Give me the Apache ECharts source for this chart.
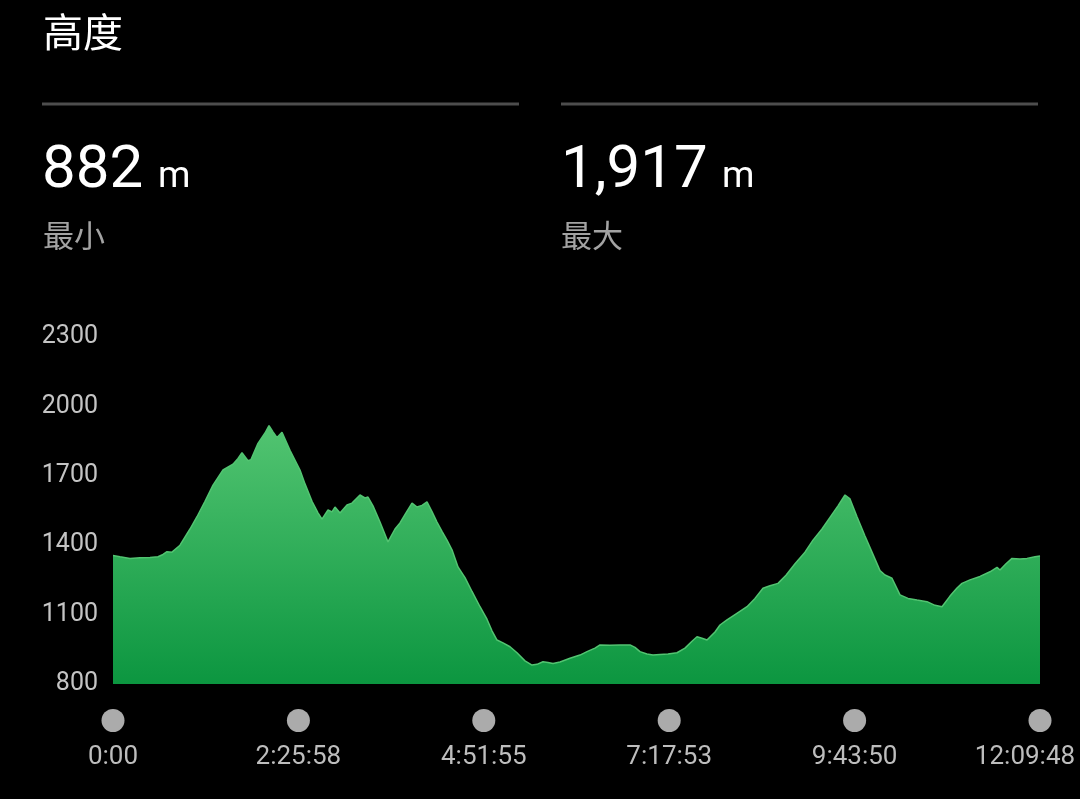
<!DOCTYPE html>
<html>
<head>
<meta charset="utf-8">
<style>
  html, body { margin: 0; padding: 0; background: #000; }
  #chart { width: 1080px; height: 799px; }
</style>
<script src="https://cdn.jsdelivr.net/npm/echarts@6/dist/echarts.min.js"></script>
</head>
<body>
<div id="chart"></div>
<script>
// ---- data (time in seconds, elevation in metres) ----
var timeSec = [0, 331, 803, 1275, 1748, 2126, 2362, 2551, 2787, 3165, 3637, 3968, 4346, 4724, 5196, 5668, 5905, 6093, 6377, 6519, 6849, 7180, 7369, 7558, 7747, 7983, 8361, 8833, 9069, 9400, 9683, 9872, 10156, 10345, 10486, 10723, 11053, 11289, 11667, 11903, 12045, 12281, 12612, 12990, 13321, 13557, 13840, 14124, 14360, 14596, 14832, 15068, 15304, 15541, 15777, 16013, 16296, 16627, 16958, 17336, 17666, 17902, 18139, 18422, 18753, 19083, 19461, 19792, 20028, 20311, 20548, 20784, 21114, 21587, 22059, 22390, 22768, 23004, 23476, 23949, 24421, 24657, 24893, 25224, 25507, 25838, 26216, 26641, 27019, 27350, 27586, 27822, 28058, 28436, 28672, 29003, 29381, 29948, 30325, 30703, 31034, 31412, 31790, 32215, 32687, 33065, 33490, 33868, 34246, 34577, 34813, 35144, 35521, 35852, 36230, 36466, 36797, 37175, 37553, 37978, 38450, 38828, 39159, 39537, 39867, 40103, 40481, 40954, 41426, 41757, 41898, 42182, 42465, 42843, 43174, 43552, 43788];
var elevation = [1355, 1350, 1343, 1346, 1347, 1350, 1360, 1372, 1370, 1400, 1470, 1523, 1590, 1660, 1725, 1750, 1775, 1800, 1765, 1770, 1840, 1885, 1917, 1890, 1865, 1888, 1810, 1725, 1665, 1590, 1540, 1513, 1552, 1544, 1565, 1539, 1574, 1582, 1617, 1604, 1608, 1570, 1500, 1414, 1470, 1496, 1540, 1582, 1565, 1572, 1587, 1545, 1500, 1460, 1422, 1380, 1306, 1260, 1200, 1134, 1080, 1030, 990, 978, 961, 935, 900, 882, 885, 896, 893, 889, 895, 911, 925, 940, 955, 969, 968, 969, 969, 958, 940, 930, 925, 928, 930, 935, 955, 985, 1004, 998, 990, 1025, 1055, 1077, 1100, 1134, 1170, 1214, 1225, 1235, 1270, 1320, 1370, 1422, 1470, 1520, 1570, 1617, 1600, 1523, 1440, 1370, 1290, 1271, 1257, 1185, 1170, 1163, 1156, 1140, 1134, 1180, 1215, 1235, 1250, 1265, 1285, 1304, 1293, 1320, 1343, 1340, 1343, 1350, 1353];
var xTickLabels = ['0:00', '2:25:58', '4:51:55', '7:17:53', '9:43:50', '12:09:48'];
var yTicks = [800, 1100, 1400, 1700, 2000, 2300];
var titleText = '高度';
var minValue = 882, maxValue = 1917;
var minLabel = '最小', maxLabel = '最大';

var totalSec = timeSec[timeSec.length - 1];
var xInterval = totalSec / (xTickLabels.length - 1);
var seriesData = timeSec.map(function (t, i) { return [t, elevation[i]]; });

function fmtNum(n) { return n.toLocaleString('en-US'); }

var chart = echarts.init(document.getElementById('chart'), null, { renderer: 'canvas' });
var NUM_FONT = 'Roboto, "Noto Sans", sans-serif';
var CJK_FONT = '"Noto Sans CJK SC", "Noto Sans", sans-serif';

var option = {
  backgroundColor: '#000000',
  animation: false,
  grid: { left: 113, right: 40, top: 337, bottom: 115, containLabel: false },
  xAxis: [{
    type: 'value',
    min: 0,
    max: totalSec,
    interval: xInterval,
    axisLine: { show: false },
    axisTick: { show: false },
    splitLine: { show: false },
    axisLabel: {
      margin: 60,
      color: '#bdbdbd',
      fontSize: 26,
      fontFamily: NUM_FONT,
      showMinLabel: true,
      showMaxLabel: true,
      hideOverlap: false,
      formatter: function (v) {
        var i = Math.round(v / xInterval);
        if (i === xTickLabels.length - 1) return '{last|' + xTickLabels[i] + '}';
        return xTickLabels[i];
      },
      rich: {
        last: { color: '#bdbdbd', fontSize: 26, fontFamily: NUM_FONT, padding: [0, 30, 0, 0] }
      }
    }
  }, {
    type: 'value',
    position: 'bottom',
    min: 0,
    max: totalSec,
    interval: xInterval,
    axisLine: { show: false },
    axisTick: { show: false },
    splitLine: { show: false },
    axisLabel: {
      margin: 25,
      showMinLabel: true,
      showMaxLabel: true,
      hideOverlap: false,
      formatter: function () { return '{d|}'; },
      rich: {
        d: { width: 23, height: 23, borderRadius: 11.5, backgroundColor: '#ababab' }
      }
    }
  }],
  yAxis: {
    type: 'value',
    min: yTicks[0],
    max: yTicks[yTicks.length - 1],
    interval: yTicks[1] - yTicks[0],
    axisLine: { show: false },
    axisTick: { show: false },
    splitLine: { show: false },
    axisLabel: {
      margin: 15,
      color: '#c4c4c4',
      fontSize: 25,
      fontFamily: NUM_FONT,
      padding: [4, 0, 0, 0],
      formatter: function (v) { return String(v); }
    }
  },
  series: [{
    type: 'line',
    xAxisIndex: 0,
    data: seriesData,
    showSymbol: false,
    symbol: 'none',
    smooth: false,
    lineStyle: { color: '#52c471', width: 1.5 },
    areaStyle: {
      opacity: 1,
      color: new echarts.graphic.LinearGradient(0, 0, 0, 1, [
        { offset: 0, color: '#52c471' },
        { offset: 1, color: '#0c9640' }
      ])
    }
  }],
  graphic: [
    { type: 'text', left: 43, top: 12, style: { text: titleText, fill: '#ffffff', font: '40px ' + CJK_FONT } },
    { type: 'rect', shape: { x: 42, y: 102.5, width: 477, height: 3 }, style: { fill: '#4d4d4d' } },
    { type: 'rect', shape: { x: 561, y: 102.5, width: 477, height: 3 }, style: { fill: '#4d4d4d' } },
    { type: 'text', x: 42, y: 172, style: { text: fmtNum(minValue), fill: '#ffffff', font: '60px ' + NUM_FONT, verticalAlign: 'middle' } },
    { type: 'text', x: 158, y: 178, style: { text: 'm', fill: '#ffffff', font: '37px ' + NUM_FONT, verticalAlign: 'middle' } },
    { type: 'text', x: 43, y: 235, style: { text: minLabel, fill: '#a3a3a3', font: '31px ' + CJK_FONT, verticalAlign: 'middle' } },
    { type: 'text', x: 561, y: 172, style: { text: fmtNum(maxValue), fill: '#ffffff', font: '60px ' + NUM_FONT, verticalAlign: 'middle' } },
    { type: 'text', x: 722, y: 178, style: { text: 'm', fill: '#ffffff', font: '37px ' + NUM_FONT, verticalAlign: 'middle' } },
    { type: 'text', x: 561, y: 235, style: { text: maxLabel, fill: '#a3a3a3', font: '31px ' + CJK_FONT, verticalAlign: 'middle' } }
  ]
};
chart.setOption(option);
</script>
</body>
</html>
